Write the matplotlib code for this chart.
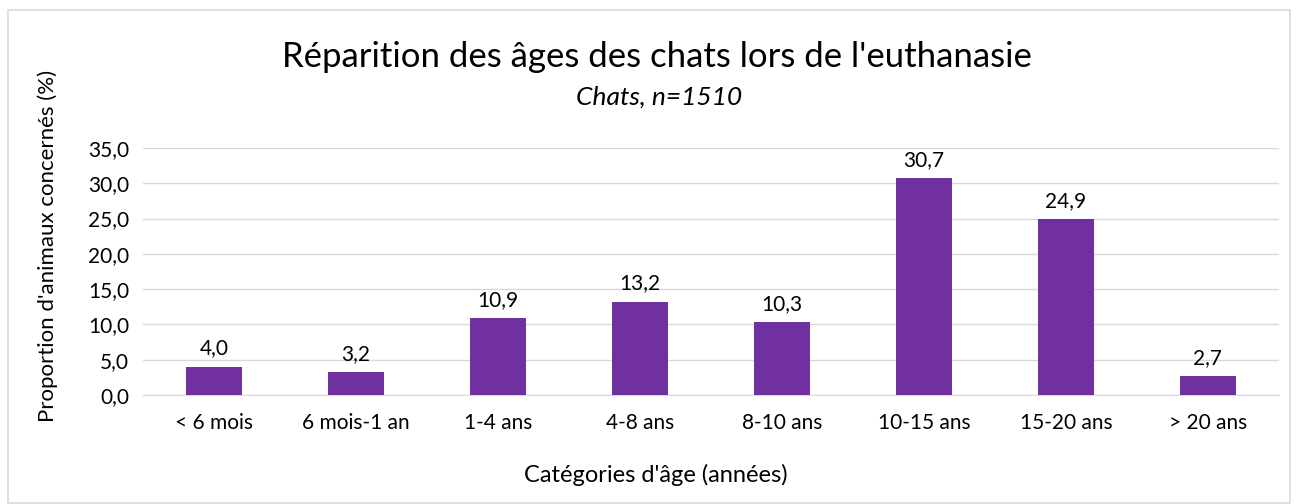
import matplotlib
matplotlib.use("Agg")
import matplotlib.pyplot as plt
from matplotlib.patches import Rectangle

categories = ["< 6 mois", "6 mois-1 an", "1-4 ans", "4-8 ans", "8-10 ans", "10-15 ans", "15-20 ans", "> 20 ans"]
values = [4.0, 3.2, 10.9, 13.2, 10.3, 30.7, 24.9, 2.7]
yticks = [0, 5, 10, 15, 20, 25, 30, 35]

plt.rcParams['font.family'] = ['Lato', 'DejaVu Sans']

W, H = 1298, 504
fig = plt.figure(figsize=(W/100, H/100), dpi=100)
fig.patch.set_facecolor('white')
fig.add_artist(Rectangle((8/W, 1 - 503/H), (1290-8)/W, (503-10)/H, transform=fig.transFigure,
                         fill=False, edgecolor='#d9d9d9', linewidth=1.2))

ax = fig.add_axes([143/W, 1 - 395/H, (1279-143)/W, (395-148)/H])
x = range(len(categories))
ax.bar(x, values, width=0.4, color='#7030A0', zorder=3)
ax.set_xlim(-0.5, len(categories) - 0.5)
ax.set_ylim(0, 35)
ax.set_yticks(yticks)
ax.set_yticklabels([f"{v:.1f}".replace('.', ',') for v in yticks], fontsize=15)
ax.set_xticks(list(x))
ax.set_xticklabels(categories, fontsize=15)
ax.tick_params(axis='both', length=0, pad=10)
ax.tick_params(axis='x', pad=13)
ax.grid(axis='y', color='#d9d9d9', linewidth=1, zorder=0)
for s in ['top', 'right', 'left']:
    ax.spines[s].set_visible(False)
ax.spines['bottom'].set_color('#d9d9d9')

for xi, v in zip(x, values):
    ax.annotate(f"{v:.1f}".replace('.', ','), (xi, v), xytext=(0, 6), textcoords='offset points',
                ha='center', va='bottom', fontsize=15)

fig.text(657/W, 1 - 57/H, "Réparition des âges des chats lors de l'euthanasie", ha='center', va='center', fontsize=25)
fig.text(659/W, 1 - 97/H, "Chats, n=1510", ha='center', va='center', fontsize=19, style='italic')
fig.text(656/W, 1 - 475/H, "Catégories d'âge (années)", ha='center', va='center', fontsize=17)
fig.text(48/W, 1 - 246/H, "Proportion d'animaux concernés (%)", ha='center', va='center', fontsize=16, rotation=90)

fig.savefig("out.png", dpi=100)
